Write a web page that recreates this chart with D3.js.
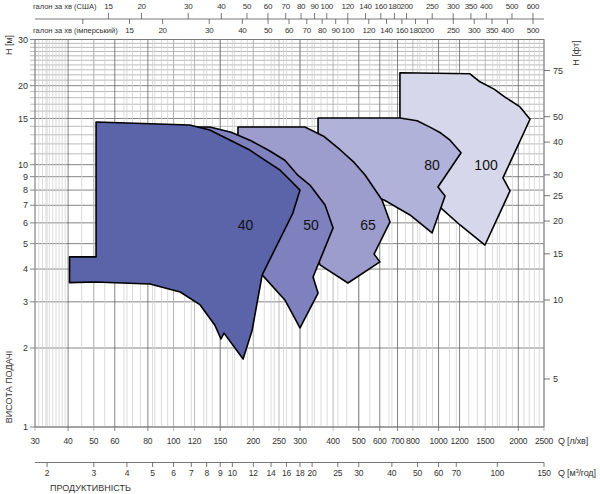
<!DOCTYPE html>
<html>
<head>
<meta charset="utf-8">
<script src="https://cdn.jsdelivr.net/npm/d3@7"></script>
<style>
  body { margin: 0; background: #fff; }
  text { font-family: "Liberation Sans Narrow", "Liberation Sans", Arial, sans-serif; fill: #333; }
</style>
</head>
<body>
<svg id="chart" width="600" height="494"></svg>
<script>
// axis ticks
var qTicks = [30, 40, 50, 60, 80, 100, 120, 150, 200, 250, 300, 400, 500, 600, 700, 800, 1000, 1200, 1500, 2000, 2500];
var m3Ticks = [2, 3, 4, 5, 6, 7, 8, 9, 10, 12, 14, 16, 18, 20, 25, 30, 40, 50, 60, 70, 100, 150];
var usTicks = [15, 20, 30, 40, 50, 60, 70, 80, 90, 100, 120, 140, 160, 180, 200, 250, 300, 350, 400, 500, 600];
var impTicks = [10, 15, 20, 30, 40, 50, 60, 70, 80, 90, 100, 120, 140, 160, 180, 200, 250, 300, 350, 400, 500];
var hTicks = [1, 2, 3, 4, 5, 6, 7, 8, 9, 10, 15, 20, 30];
var ftTicks = [5, 10, 15, 20, 25, 30, 40, 50, 75];
var darkQ = [40, 60, 80, 150, 300, 500, 600, 700, 1000, 1200, 2000];
var minorQ = [31, 32, 33, 34, 35, 36, 37, 38, 39, 45, 55, 65, 70, 75, 85, 90, 95, 110, 130, 140, 160, 170, 180, 190,
  220, 240, 260, 280, 320, 340, 360, 380, 450, 550, 650, 750, 850, 900, 950, 1100, 1300, 1400, 1600, 1700, 1800, 1900,
  2100, 2200, 2300, 2400];

// pump fields, [Q l/min, H m]
var pumpNames = ["100", "80", "65", "50", "40"];
var pumpColors = ["#d6d7eb", "#b1b2d9", "#9c9dcd", "#7f81bf", "#5b63a9"];
var field100 = [[715, 22.4], [1314, 22.2], [1433, 20.7], [1620, 19.4], [1781, 18.1], [2030, 16.6], [2214, 14.9],
  [1750, 8.9], [1861, 7.94], [1497, 4.94], [1205, 5.89], [995, 7.0], [850, 11], [715, 15]];
var field80 = [[351, 15.06], [715, 15.06], [830, 14.7], [928, 13.9], [1020, 13.2], [1105, 12.4], [1216, 11.1],
  [995, 8.22], [1058, 7.6], [945, 5.49], [780, 6.43], [628, 7.3], [450, 8.5], [351, 12]];
var field65 = [[175, 13.92], [313, 13.92], [370, 12.8], [425, 11.4], [480, 10.2], [528, 9.13], [612, 7.33], [656, 6.05],
  [571, 4.56], [601, 4.26], [455, 3.54], [357, 4.15], [300, 8], [175, 12]];
var field50 = [[115, 13.92], [137, 13.92], [165, 13.3], [194, 12.4], [230, 11.3], [263, 10.4], [295, 9.1], [327, 8.36],
  [373, 7.02], [400, 5.74], [336, 3.73], [351, 3.24], [300, 2.385], [263, 3.05], [216, 3.8], [178, 4.33], [115, 10]];
var field40 = [[51, 14.54], [115, 14.16], [137, 13.56], [163, 12.42], [194, 11.37], [221, 10.4], [252, 9.54], [275, 8.74],
  [300, 8.0], [282, 6.54], [216, 3.8], [198, 2.34], [183, 1.816], [155, 2.28], [151, 2.165], [143, 2.45], [126, 2.92],
  [106, 3.27], [81.5, 3.51], [50.5, 3.57], [40.5, 3.55], [40.5, 4.45], [51, 4.45]];
var fields = [field100, field80, field65, field50, field40];
var labelPos = [[1511, 9.97], [945, 9.97], [542, 5.89], [330, 5.89], [187, 5.89]];

var svg = d3.select("#chart");
var x = d3.scaleLog().domain([30, 2500]).range([35, 544]);
var y = d3.scaleLog().domain([1, 30]).range([427, 39.5]);
var L = 35, R = 544, T = 39.5, B = 427;

// grid
var grid = svg.append("g");
grid.selectAll(".hg").data(d3.range(1, 31)).enter().append("line")
  .attr("x1", 30).attr("x2", R)
  .attr("y1", function(d) { return y(d); }).attr("y2", function(d) { return y(d); })
  .attr("stroke", function(d) { return hTicks.indexOf(d) >= 0 ? "#666" : "#aaa"; })
  .attr("stroke-width", 0.8);
grid.selectAll(".vm").data(minorQ.concat(m3Ticks.map(function(d) { return d * 1000 / 60; }))).enter().append("line")
  .attr("x1", function(d) { return x(d); }).attr("x2", function(d) { return x(d); })
  .attr("y1", T).attr("y2", B)
  .attr("stroke", "#d2d2d2").attr("stroke-width", 0.8);
grid.selectAll(".vq").data(qTicks).enter().append("line")
  .attr("x1", function(d) { return x(d); }).attr("x2", function(d) { return x(d); })
  .attr("y1", T).attr("y2", B + 4)
  .attr("stroke", function(d) { return darkQ.indexOf(d) >= 0 ? "#666" : "#aaa"; })
  .attr("stroke-width", 0.8);
svg.append("rect").attr("x", L).attr("y", T).attr("width", R - L).attr("height", B - T)
  .attr("fill", "none").attr("stroke", "#777").attr("stroke-width", 0.8);

// pump fields
var line = d3.line().x(function(d) { return x(d[0]); }).y(function(d) { return y(d[1]); });
svg.selectAll(".field").data(fields).enter().append("path")
  .attr("d", function(d) { return line(d) + "Z"; })
  .attr("fill", function(d, i) { return pumpColors[i]; })
  .attr("stroke", "#000").attr("stroke-width", 1.6).attr("stroke-linejoin", "round");
svg.selectAll(".flab").data(pumpNames).enter().append("text")
  .attr("x", function(d, i) { return x(labelPos[i][0]); })
  .attr("y", function(d, i) { return y(labelPos[i][1]); })
  .attr("text-anchor", "middle").attr("dy", "0.35em")
  .style("font-family", "'Liberation Sans', Arial, sans-serif")
  .style("font-size", "14px").style("fill", "#111")
  .text(function(d) { return d; });

// left axis
var la = svg.append("g").style("font-size", "9px");
la.selectAll("text").data(hTicks).enter().append("text")
  .attr("x", 28).attr("y", function(d) { return y(d); }).attr("dy", "0.35em")
  .attr("text-anchor", "end").text(function(d) { return d; });
svg.append("text").attr("transform", "translate(12,45) rotate(-90)").attr("text-anchor", "middle")
  .style("font-size", "9px").text("H [м]");
svg.append("text").attr("transform", "translate(12,387) rotate(-90)").attr("text-anchor", "middle")
  .style("font-size", "9px").text("ВИСОТА ПОДАЧІ");

// right axis (feet)
var ra = svg.append("g").style("font-size", "9px");
ra.selectAll("line").data(ftTicks).enter().append("line")
  .attr("x1", R).attr("x2", R + 6)
  .attr("y1", function(d) { return y(d / 3.2808); }).attr("y2", function(d) { return y(d / 3.2808); })
  .attr("stroke", "#555").attr("stroke-width", 0.8);
ra.selectAll("text").data(ftTicks).enter().append("text")
  .attr("x", R + 9).attr("y", function(d) { return y(d / 3.2808); }).attr("dy", "0.35em")
  .text(function(d) { return d; });
svg.append("text").attr("transform", "translate(579,53) rotate(-90)").attr("text-anchor", "middle")
  .style("font-size", "9px").text("H [фт]");

// bottom axis l/min
var ba = svg.append("g").style("font-size", "8.5px").style("letter-spacing", "-0.2px");
ba.selectAll("text").data(qTicks).enter().append("text")
  .attr("x", function(d) { return x(d); }).attr("y", 444).attr("text-anchor", "middle")
  .text(function(d) { return d; });
ba.append("text").attr("x", 558).attr("y", 444).style("font-size", "9px").text("Q [л/хв]");

// bottom axis m3/h
var mb = svg.append("g").style("font-size", "8.5px").style("letter-spacing", "-0.2px");
mb.append("line").attr("x1", L).attr("x2", R).attr("y1", 462.5).attr("y2", 462.5)
  .attr("stroke", "#555").attr("stroke-width", 0.8);
mb.selectAll("line.t").data(m3Ticks).enter().append("line")
  .attr("x1", function(d) { return x(d * 1000 / 60); }).attr("x2", function(d) { return x(d * 1000 / 60); })
  .attr("y1", 462.5).attr("y2", 467).attr("stroke", "#555").attr("stroke-width", 0.8);
mb.selectAll("text.t").data(m3Ticks).enter().append("text")
  .attr("x", function(d) { return x(d * 1000 / 60); }).attr("y", 476).attr("text-anchor", "middle")
  .text(function(d) { return d; });
var qm = mb.append("text").attr("x", 558).attr("y", 476).style("font-size", "9px").text("Q [м");
qm.append("tspan").attr("dy", -3).style("font-size", "6px").text("3");
qm.append("tspan").attr("dy", 3).text("/год]");
svg.append("text").attr("x", 50).attr("y", 491).style("font-size", "9px").text("ПРОДУКТИВНІСТЬ");

// top axes (gallons)
var ta = svg.append("g").style("font-size", "8px").style("letter-spacing", "-0.3px");
ta.append("line").attr("x1", L).attr("x2", R).attr("y1", 19).attr("y2", 19)
  .attr("stroke", "#555").attr("stroke-width", 0.8);
ta.selectAll("line.us").data(usTicks).enter().append("line")
  .attr("x1", function(d) { return x(d * 3.7854); }).attr("x2", function(d) { return x(d * 3.7854); })
  .attr("y1", 13).attr("y2", 19).attr("stroke", "#555").attr("stroke-width", 0.8);
ta.selectAll("text.us").data(usTicks).enter().append("text")
  .attr("x", function(d) { return x(d * 3.7854); }).attr("y", 9).attr("text-anchor", "middle")
  .text(function(d) { return d; });
ta.selectAll("line.imp").data(impTicks).enter().append("line")
  .attr("x1", function(d) { return x(d * 4.546); }).attr("x2", function(d) { return x(d * 4.546); })
  .attr("y1", 19).attr("y2", 24).attr("stroke", "#555").attr("stroke-width", 0.8);
ta.selectAll("text.imp").data(impTicks.slice(1)).enter().append("text")
  .attr("x", function(d) { return x(d * 4.546); }).attr("y", 33).attr("text-anchor", "middle")
  .text(function(d) { return d; });
svg.append("text").attr("x", 33).attr("y", 9).style("font-size", "7.5px").text("галон за хв (США)");
svg.append("text").attr("x", 33).attr("y", 33).style("font-size", "7.5px").text("галон за хв (імперський)");
</script>
</body>
</html>
